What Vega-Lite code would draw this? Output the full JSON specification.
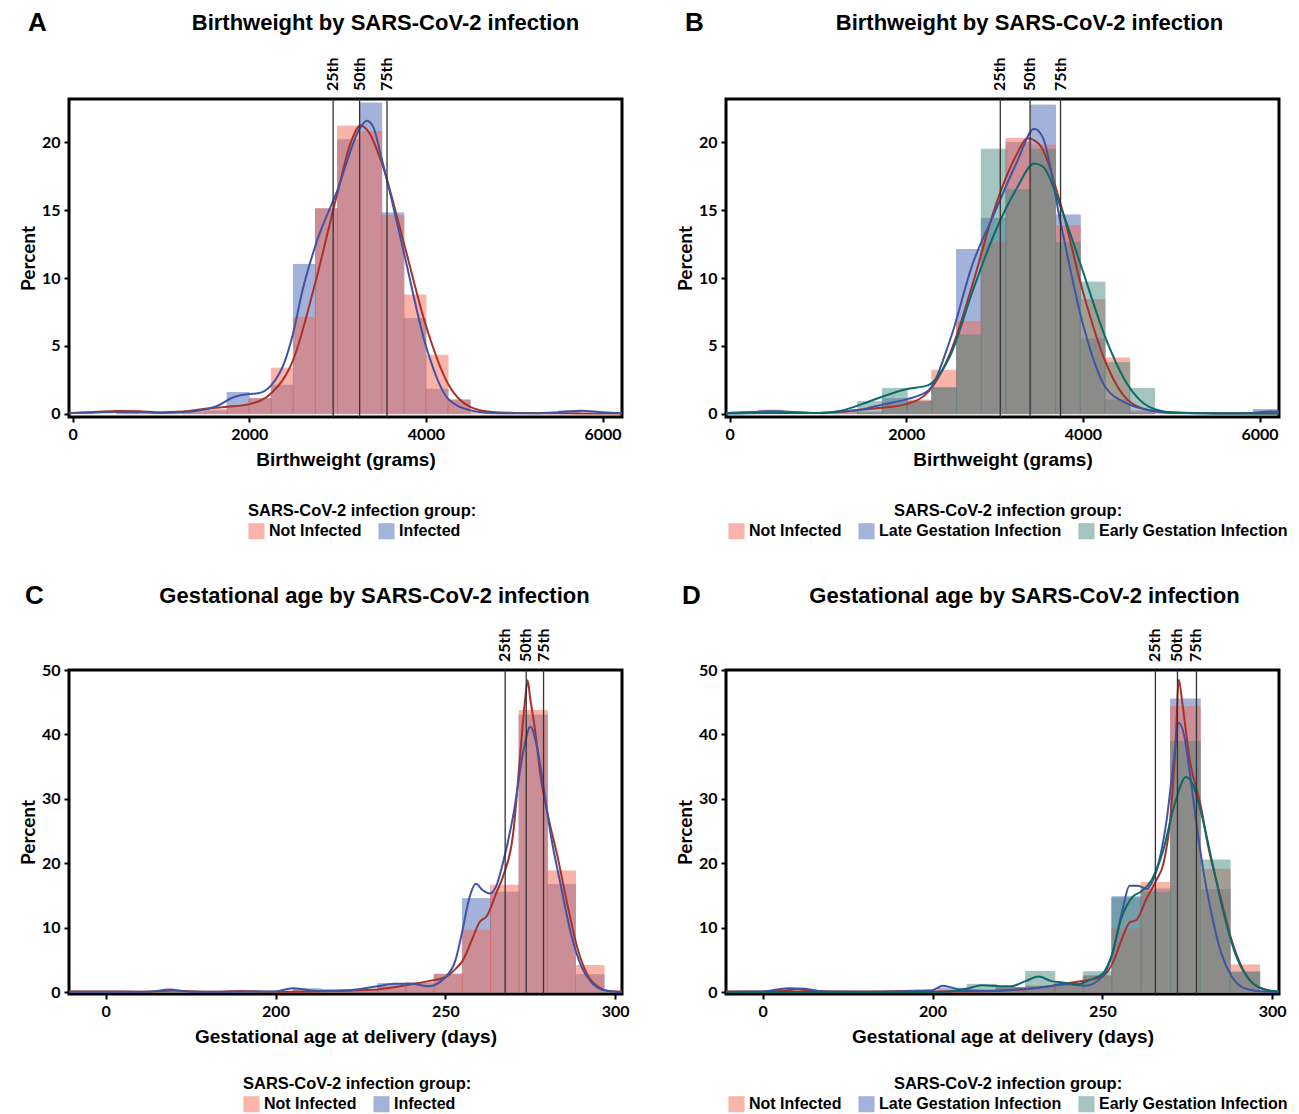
{
"$schema": "https://vega.github.io/schema/vega-lite/v6.json",
"padding": {"left": 17, "top": 8, "right": 4, "bottom": 0},
"columns": 2,
"bounds": "flush",
"spacing": {"row": 253, "column": 104},
"resolve": {"scale": {"x": "independent", "y": "independent", "fill": "independent", "stroke": "independent", "color": "independent"}, "legend": {"fill": "independent"}},
"datasets": {
"barsA": [
{"group":"Infected","start":500,"end":750,"percent":0.15},
{"group":"Infected","start":1250,"end":1500,"percent":0.1},
{"group":"Infected","start":1500,"end":1750,"percent":0.2},
{"group":"Infected","start":1750,"end":2000,"percent":1.55},
{"group":"Infected","start":2000,"end":2250,"percent":1.1},
{"group":"Infected","start":2250,"end":2500,"percent":2.1},
{"group":"Infected","start":2500,"end":2750,"percent":11.0},
{"group":"Infected","start":2750,"end":3000,"percent":15.1},
{"group":"Infected","start":3000,"end":3250,"percent":20.2},
{"group":"Infected","start":3250,"end":3500,"percent":22.9},
{"group":"Infected","start":3500,"end":3750,"percent":14.8},
{"group":"Infected","start":3750,"end":4000,"percent":7.0},
{"group":"Infected","start":4000,"end":4250,"percent":1.8},
{"group":"Infected","start":4250,"end":4500,"percent":1.0},
{"group":"Infected","start":5500,"end":5750,"percent":0.2},
{"group":"Not Infected","start":0,"end":250,"percent":0.05},
{"group":"Not Infected","start":500,"end":750,"percent":0.2},
{"group":"Not Infected","start":750,"end":1000,"percent":0.1},
{"group":"Not Infected","start":1000,"end":1250,"percent":0.05},
{"group":"Not Infected","start":1250,"end":1500,"percent":0.15},
{"group":"Not Infected","start":1500,"end":1750,"percent":0.3},
{"group":"Not Infected","start":1750,"end":2000,"percent":0.6},
{"group":"Not Infected","start":2000,"end":2250,"percent":1.1},
{"group":"Not Infected","start":2250,"end":2500,"percent":3.35},
{"group":"Not Infected","start":2500,"end":2750,"percent":7.1},
{"group":"Not Infected","start":2750,"end":3000,"percent":15.1},
{"group":"Not Infected","start":3000,"end":3250,"percent":21.2},
{"group":"Not Infected","start":3250,"end":3500,"percent":20.8},
{"group":"Not Infected","start":3500,"end":3750,"percent":14.6},
{"group":"Not Infected","start":3750,"end":4000,"percent":8.75},
{"group":"Not Infected","start":4000,"end":4250,"percent":4.3},
{"group":"Not Infected","start":4250,"end":4500,"percent":1.0},
{"group":"Not Infected","start":4500,"end":4750,"percent":0.1},
{"group":"Not Infected","start":4750,"end":5000,"percent":0.1}
],
"curvesA": [
{"group":"Not Infected","start":-40,"percent":0.02},{"group":"Not Infected","start":0,"percent":0.05},{"group":"Not Infected","start":250,"percent":0.12},{"group":"Not Infected","start":500,"percent":0.2},{"group":"Not Infected","start":750,"percent":0.18},{"group":"Not Infected","start":1000,"percent":0.1},{"group":"Not Infected","start":1250,"percent":0.15},{"group":"Not Infected","start":1500,"percent":0.35},{"group":"Not Infected","start":1750,"percent":0.5},{"group":"Not Infected","start":2000,"percent":0.7},{"group":"Not Infected","start":2250,"percent":1.5},{"group":"Not Infected","start":2500,"percent":4.0},{"group":"Not Infected","start":2750,"percent":9.7},{"group":"Not Infected","start":3000,"percent":16.3},{"group":"Not Infected","start":3150,"percent":20.0},{"group":"Not Infected","start":3260,"percent":21.25},{"group":"Not Infected","start":3350,"percent":20.8},{"group":"Not Infected","start":3500,"percent":18.5},{"group":"Not Infected","start":3750,"percent":12.6},{"group":"Not Infected","start":4000,"percent":6.5},{"group":"Not Infected","start":4250,"percent":2.2},{"group":"Not Infected","start":4500,"percent":0.5},{"group":"Not Infected","start":4750,"percent":0.12},{"group":"Not Infected","start":5000,"percent":0.05},{"group":"Not Infected","start":5500,"percent":0.02},{"group":"Not Infected","start":6220,"percent":0.0},
{"group":"Infected","start":-40,"percent":0.02},{"group":"Infected","start":0,"percent":0.05},{"group":"Infected","start":250,"percent":0.08},{"group":"Infected","start":500,"percent":0.12},{"group":"Infected","start":750,"percent":0.1},{"group":"Infected","start":1000,"percent":0.05},{"group":"Infected","start":1250,"percent":0.1},{"group":"Infected","start":1500,"percent":0.3},{"group":"Infected","start":1650,"percent":0.6},{"group":"Infected","start":1800,"percent":1.15},{"group":"Infected","start":1900,"percent":1.35},{"group":"Infected","start":2000,"percent":1.45},{"group":"Infected","start":2100,"percent":1.5},{"group":"Infected","start":2250,"percent":2.1},{"group":"Infected","start":2400,"percent":3.8},{"group":"Infected","start":2500,"percent":6.0},{"group":"Infected","start":2600,"percent":9.0},{"group":"Infected","start":2750,"percent":12.4},{"group":"Infected","start":3000,"percent":16.5},{"group":"Infected","start":3250,"percent":21.0},{"group":"Infected","start":3330,"percent":21.6},{"group":"Infected","start":3400,"percent":21.2},{"group":"Infected","start":3500,"percent":18.8},{"group":"Infected","start":3750,"percent":11.9},{"group":"Infected","start":4000,"percent":5.0},{"group":"Infected","start":4250,"percent":1.1},{"group":"Infected","start":4500,"percent":0.25},{"group":"Infected","start":4750,"percent":0.05},{"group":"Infected","start":5000,"percent":0.02},{"group":"Infected","start":5250,"percent":0.02},{"group":"Infected","start":5500,"percent":0.1},{"group":"Infected","start":5750,"percent":0.22},{"group":"Infected","start":6000,"percent":0.1},{"group":"Infected","start":6220,"percent":0.02}
],
"pctA": [{"start":2950,"label":"25th"},{"start":3250,"label":"50th"},{"start":3560,"label":"75th"}],
"barsB": [
{"group":"Late Gestation Infection","start":330,"end":610,"percent":0.25},
{"group":"Late Gestation Infection","start":1170,"end":1450,"percent":0.15},
{"group":"Late Gestation Infection","start":1450,"end":1730,"percent":0.1},
{"group":"Late Gestation Infection","start":1730,"end":2010,"percent":1.1},
{"group":"Late Gestation Infection","start":2010,"end":2290,"percent":0.9},
{"group":"Late Gestation Infection","start":2290,"end":2570,"percent":1.9},
{"group":"Late Gestation Infection","start":2570,"end":2850,"percent":12.1},
{"group":"Late Gestation Infection","start":2850,"end":3130,"percent":14.4},
{"group":"Late Gestation Infection","start":3130,"end":3410,"percent":20.0},
{"group":"Late Gestation Infection","start":3410,"end":3690,"percent":22.75},
{"group":"Late Gestation Infection","start":3690,"end":3970,"percent":14.65},
{"group":"Late Gestation Infection","start":3970,"end":4250,"percent":5.5},
{"group":"Late Gestation Infection","start":4250,"end":4530,"percent":1.0},
{"group":"Late Gestation Infection","start":4530,"end":4810,"percent":0.1},
{"group":"Late Gestation Infection","start":5930,"end":6210,"percent":0.3},
{"group":"Not Infected","start":330,"end":610,"percent":0.1},
{"group":"Not Infected","start":1170,"end":1450,"percent":0.15},
{"group":"Not Infected","start":1450,"end":1730,"percent":0.1},
{"group":"Not Infected","start":1730,"end":2010,"percent":0.7},
{"group":"Not Infected","start":2010,"end":2290,"percent":1.0},
{"group":"Not Infected","start":2290,"end":2570,"percent":3.2},
{"group":"Not Infected","start":2570,"end":2850,"percent":6.8},
{"group":"Not Infected","start":2850,"end":3130,"percent":12.6},
{"group":"Not Infected","start":3130,"end":3410,"percent":20.3},
{"group":"Not Infected","start":3410,"end":3690,"percent":19.8},
{"group":"Not Infected","start":3690,"end":3970,"percent":13.85},
{"group":"Not Infected","start":3970,"end":4250,"percent":8.4},
{"group":"Not Infected","start":4250,"end":4530,"percent":4.1},
{"group":"Not Infected","start":4530,"end":4810,"percent":0.2},
{"group":"Not Infected","start":4810,"end":5090,"percent":0.1},
{"group":"Early Gestation Infection","start":1450,"end":1730,"percent":0.88},
{"group":"Early Gestation Infection","start":1730,"end":2010,"percent":1.86},
{"group":"Early Gestation Infection","start":2010,"end":2290,"percent":0.9},
{"group":"Early Gestation Infection","start":2290,"end":2570,"percent":1.9},
{"group":"Early Gestation Infection","start":2570,"end":2850,"percent":5.8},
{"group":"Early Gestation Infection","start":2850,"end":3130,"percent":19.5},
{"group":"Early Gestation Infection","start":3130,"end":3410,"percent":16.5},
{"group":"Early Gestation Infection","start":3410,"end":3690,"percent":19.5},
{"group":"Early Gestation Infection","start":3690,"end":3970,"percent":12.6},
{"group":"Early Gestation Infection","start":3970,"end":4250,"percent":9.7},
{"group":"Early Gestation Infection","start":4250,"end":4530,"percent":3.75},
{"group":"Early Gestation Infection","start":4530,"end":4810,"percent":1.86}
],
"curvesB": [
{"group":"Not Infected","start":-40,"percent":0.02},{"group":"Not Infected","start":0,"percent":0.05},{"group":"Not Infected","start":250,"percent":0.1},{"group":"Not Infected","start":500,"percent":0.15},{"group":"Not Infected","start":750,"percent":0.1},{"group":"Not Infected","start":1000,"percent":0.05},{"group":"Not Infected","start":1250,"percent":0.12},{"group":"Not Infected","start":1500,"percent":0.3},{"group":"Not Infected","start":1750,"percent":0.45},{"group":"Not Infected","start":2000,"percent":0.7},{"group":"Not Infected","start":2250,"percent":1.6},{"group":"Not Infected","start":2500,"percent":4.5},{"group":"Not Infected","start":2750,"percent":9.5},{"group":"Not Infected","start":3000,"percent":15.1},{"group":"Not Infected","start":3250,"percent":19.1},{"group":"Not Infected","start":3370,"percent":20.3},{"group":"Not Infected","start":3500,"percent":19.9},{"group":"Not Infected","start":3750,"percent":15.4},{"group":"Not Infected","start":4000,"percent":9.0},{"group":"Not Infected","start":4250,"percent":3.9},{"group":"Not Infected","start":4500,"percent":1.05},{"group":"Not Infected","start":4750,"percent":0.25},{"group":"Not Infected","start":5000,"percent":0.08},{"group":"Not Infected","start":5500,"percent":0.03},{"group":"Not Infected","start":6220,"percent":0.0},
{"group":"Late Gestation Infection","start":-40,"percent":0.02},{"group":"Late Gestation Infection","start":0,"percent":0.05},{"group":"Late Gestation Infection","start":250,"percent":0.12},{"group":"Late Gestation Infection","start":500,"percent":0.18},{"group":"Late Gestation Infection","start":750,"percent":0.1},{"group":"Late Gestation Infection","start":1000,"percent":0.05},{"group":"Late Gestation Infection","start":1250,"percent":0.15},{"group":"Late Gestation Infection","start":1500,"percent":0.3},{"group":"Late Gestation Infection","start":1750,"percent":0.7},{"group":"Late Gestation Infection","start":2000,"percent":1.05},{"group":"Late Gestation Infection","start":2250,"percent":1.7},{"group":"Late Gestation Infection","start":2500,"percent":5.5},{"group":"Late Gestation Infection","start":2750,"percent":11.0},{"group":"Late Gestation Infection","start":3000,"percent":14.8},{"group":"Late Gestation Infection","start":3250,"percent":18.5},{"group":"Late Gestation Infection","start":3450,"percent":21.0},{"group":"Late Gestation Infection","start":3550,"percent":20.3},{"group":"Late Gestation Infection","start":3750,"percent":14.0},{"group":"Late Gestation Infection","start":4000,"percent":6.6},{"group":"Late Gestation Infection","start":4250,"percent":2.0},{"group":"Late Gestation Infection","start":4500,"percent":0.75},{"group":"Late Gestation Infection","start":4750,"percent":0.25},{"group":"Late Gestation Infection","start":5000,"percent":0.05},{"group":"Late Gestation Infection","start":5500,"percent":0.02},{"group":"Late Gestation Infection","start":5900,"percent":0.05},{"group":"Late Gestation Infection","start":6100,"percent":0.15},{"group":"Late Gestation Infection","start":6220,"percent":0.15},
{"group":"Early Gestation Infection","start":-40,"percent":0.0},{"group":"Early Gestation Infection","start":500,"percent":0.05},{"group":"Early Gestation Infection","start":1000,"percent":0.05},{"group":"Early Gestation Infection","start":1250,"percent":0.2},{"group":"Early Gestation Infection","start":1500,"percent":0.7},{"group":"Early Gestation Infection","start":1750,"percent":1.3},{"group":"Early Gestation Infection","start":2000,"percent":1.8},{"group":"Early Gestation Infection","start":2250,"percent":2.1},{"group":"Early Gestation Infection","start":2500,"percent":4.3},{"group":"Early Gestation Infection","start":2750,"percent":9.0},{"group":"Early Gestation Infection","start":3000,"percent":13.3},{"group":"Early Gestation Infection","start":3250,"percent":16.6},{"group":"Early Gestation Infection","start":3450,"percent":18.45},{"group":"Early Gestation Infection","start":3550,"percent":18.2},{"group":"Early Gestation Infection","start":3750,"percent":15.2},{"group":"Early Gestation Infection","start":4000,"percent":10.5},{"group":"Early Gestation Infection","start":4250,"percent":5.7},{"group":"Early Gestation Infection","start":4500,"percent":2.2},{"group":"Early Gestation Infection","start":4750,"percent":0.5},{"group":"Early Gestation Infection","start":5000,"percent":0.1},{"group":"Early Gestation Infection","start":5500,"percent":0.0},{"group":"Early Gestation Infection","start":6220,"percent":0.0}
],
"pctB": [{"start":3065,"label":"25th"},{"start":3402,"label":"50th"},{"start":3747,"label":"75th"}],
"barsC": [
{"group":"Infected","start":205.2,"end":213.5,"percent":0.5},
{"group":"Infected","start":213.5,"end":221.8,"percent":0.4},
{"group":"Infected","start":221.8,"end":230.1,"percent":0.4},
{"group":"Infected","start":230.1,"end":238.4,"percent":1.3},
{"group":"Infected","start":238.4,"end":246.7,"percent":1.4},
{"group":"Infected","start":246.7,"end":255,"percent":2.7},
{"group":"Infected","start":255,"end":263.3,"percent":14.5},
{"group":"Infected","start":263.3,"end":271.7,"percent":15.5},
{"group":"Infected","start":271.7,"end":280,"percent":43.0},
{"group":"Infected","start":280,"end":288.3,"percent":16.7},
{"group":"Infected","start":288.3,"end":296.7,"percent":2.7},
{"group":"Not Infected","start":205.2,"end":213.5,"percent":0.2},
{"group":"Not Infected","start":213.5,"end":221.8,"percent":0.15},
{"group":"Not Infected","start":221.8,"end":230.1,"percent":0.4},
{"group":"Not Infected","start":230.1,"end":238.4,"percent":0.8},
{"group":"Not Infected","start":238.4,"end":246.7,"percent":1.4},
{"group":"Not Infected","start":246.7,"end":255,"percent":2.8},
{"group":"Not Infected","start":255,"end":263.3,"percent":9.6},
{"group":"Not Infected","start":263.3,"end":271.7,"percent":16.6},
{"group":"Not Infected","start":271.7,"end":280,"percent":43.7},
{"group":"Not Infected","start":280,"end":288.3,"percent":18.8},
{"group":"Not Infected","start":288.3,"end":296.7,"percent":4.1}
],
"curvesC": [
{"group":"Not Infected","start":-43,"percent":0.1},{"group":"Not Infected","start":0,"percent":0.1},{"group":"Not Infected","start":40,"percent":0.05},{"group":"Not Infected","start":80,"percent":0.2},{"group":"Not Infected","start":120,"percent":0.05},{"group":"Not Infected","start":160,"percent":0.15},{"group":"Not Infected","start":200,"percent":0.05},{"group":"Not Infected","start":210,"percent":0.1},{"group":"Not Infected","start":220,"percent":0.2},{"group":"Not Infected","start":230,"percent":0.4},{"group":"Not Infected","start":240,"percent":1.2},{"group":"Not Infected","start":245,"percent":1.7},{"group":"Not Infected","start":250,"percent":2.3},{"group":"Not Infected","start":253,"percent":3.6},{"group":"Not Infected","start":255,"percent":4.8},{"group":"Not Infected","start":257.8,"percent":8.1},{"group":"Not Infected","start":260,"percent":10.8},{"group":"Not Infected","start":262.2,"percent":11.8},{"group":"Not Infected","start":265,"percent":15.4},{"group":"Not Infected","start":267,"percent":18.0},{"group":"Not Infected","start":270,"percent":24.8},{"group":"Not Infected","start":272,"percent":36.7},{"group":"Not Infected","start":273.5,"percent":45.5},{"group":"Not Infected","start":274.2,"percent":48.4},{"group":"Not Infected","start":275,"percent":45.5},{"group":"Not Infected","start":276.5,"percent":40.3},{"group":"Not Infected","start":278,"percent":33.6},{"group":"Not Infected","start":280,"percent":27.9},{"group":"Not Infected","start":283,"percent":21.1},{"group":"Not Infected","start":286,"percent":13.4},{"group":"Not Infected","start":289,"percent":6.6},{"group":"Not Infected","start":292,"percent":2.5},{"group":"Not Infected","start":295,"percent":0.8},{"group":"Not Infected","start":298,"percent":0.15},{"group":"Not Infected","start":302,"percent":0.05},
{"group":"Infected","start":-43,"percent":0.05},{"group":"Infected","start":0,"percent":0.05},{"group":"Infected","start":50,"percent":0.05},{"group":"Infected","start":75,"percent":0.4},{"group":"Infected","start":100,"percent":0.05},{"group":"Infected","start":150,"percent":0.05},{"group":"Infected","start":200,"percent":0.1},{"group":"Infected","start":205,"percent":0.6},{"group":"Infected","start":210,"percent":0.3},{"group":"Infected","start":215,"percent":0.15},{"group":"Infected","start":222,"percent":0.3},{"group":"Infected","start":230,"percent":0.9},{"group":"Infected","start":235,"percent":1.3},{"group":"Infected","start":240,"percent":1.3},{"group":"Infected","start":245,"percent":0.9},{"group":"Infected","start":250,"percent":2.3},{"group":"Infected","start":253,"percent":5.0},{"group":"Infected","start":255,"percent":9.5},{"group":"Infected","start":257,"percent":14.5},{"group":"Infected","start":259,"percent":16.8},{"group":"Infected","start":261,"percent":15.8},{"group":"Infected","start":263,"percent":15.3},{"group":"Infected","start":265,"percent":16.5},{"group":"Infected","start":267,"percent":20.2},{"group":"Infected","start":270,"percent":27.5},{"group":"Infected","start":273,"percent":37.5},{"group":"Infected","start":275,"percent":41.2},{"group":"Infected","start":277,"percent":38.0},{"group":"Infected","start":279,"percent":31.5},{"group":"Infected","start":281,"percent":24.5},{"group":"Infected","start":284,"percent":16.5},{"group":"Infected","start":287,"percent":9.0},{"group":"Infected","start":290,"percent":4.0},{"group":"Infected","start":293,"percent":1.5},{"group":"Infected","start":296,"percent":0.4},{"group":"Infected","start":300,"percent":0.05},{"group":"Infected","start":302,"percent":0.0}
],
"pctC": [{"start":267.6,"label":"25th"},{"start":273.8,"label":"50th"},{"start":278.9,"label":"75th"}],
"barsD": [
{"group":"Late Gestation Infection","start":201.6,"end":210.2,"percent":0.6},
{"group":"Late Gestation Infection","start":210.2,"end":218.8,"percent":0.2},
{"group":"Late Gestation Infection","start":218.8,"end":227.4,"percent":0.7},
{"group":"Late Gestation Infection","start":227.4,"end":236.0,"percent":0.9},
{"group":"Late Gestation Infection","start":236.0,"end":244.4,"percent":1.3},
{"group":"Late Gestation Infection","start":244.4,"end":252.8,"percent":2.5},
{"group":"Late Gestation Infection","start":252.8,"end":261.4,"percent":14.8},
{"group":"Late Gestation Infection","start":261.4,"end":270.1,"percent":16.0},
{"group":"Late Gestation Infection","start":270.1,"end":278.8,"percent":45.5},
{"group":"Late Gestation Infection","start":278.8,"end":287.6,"percent":15.9},
{"group":"Late Gestation Infection","start":287.6,"end":296.3,"percent":3.0},
{"group":"Not Infected","start":201.6,"end":210.2,"percent":0.2},
{"group":"Not Infected","start":210.2,"end":218.8,"percent":0.2},
{"group":"Not Infected","start":218.8,"end":227.4,"percent":0.7},
{"group":"Not Infected","start":227.4,"end":236.0,"percent":0.9},
{"group":"Not Infected","start":236.0,"end":244.4,"percent":1.4},
{"group":"Not Infected","start":244.4,"end":252.8,"percent":2.5},
{"group":"Not Infected","start":252.8,"end":261.4,"percent":9.8},
{"group":"Not Infected","start":261.4,"end":270.1,"percent":17.0},
{"group":"Not Infected","start":270.1,"end":278.8,"percent":44.3},
{"group":"Not Infected","start":278.8,"end":287.6,"percent":19.05},
{"group":"Not Infected","start":287.6,"end":296.3,"percent":4.2},
{"group":"Early Gestation Infection","start":210.2,"end":218.8,"percent":1.2},
{"group":"Early Gestation Infection","start":218.8,"end":227.4,"percent":0.7},
{"group":"Early Gestation Infection","start":227.4,"end":236.0,"percent":3.2},
{"group":"Early Gestation Infection","start":236.0,"end":244.4,"percent":1.3},
{"group":"Early Gestation Infection","start":244.4,"end":252.8,"percent":3.15},
{"group":"Early Gestation Infection","start":252.8,"end":261.4,"percent":14.6},
{"group":"Early Gestation Infection","start":261.4,"end":270.1,"percent":15.5},
{"group":"Early Gestation Infection","start":270.1,"end":278.8,"percent":38.9},
{"group":"Early Gestation Infection","start":278.8,"end":287.6,"percent":20.5},
{"group":"Early Gestation Infection","start":287.6,"end":296.3,"percent":3.15}
],
"curvesD": [
{"group":"Not Infected","start":-43,"percent":0.1},{"group":"Not Infected","start":0,"percent":0.1},{"group":"Not Infected","start":20,"percent":0.2},{"group":"Not Infected","start":41,"percent":0.4},{"group":"Not Infected","start":60,"percent":0.2},{"group":"Not Infected","start":80,"percent":0.1},{"group":"Not Infected","start":140,"percent":0.1},{"group":"Not Infected","start":180,"percent":0.2},{"group":"Not Infected","start":200,"percent":0.1},{"group":"Not Infected","start":210,"percent":0.1},{"group":"Not Infected","start":220,"percent":0.2},{"group":"Not Infected","start":230,"percent":0.6},{"group":"Not Infected","start":240,"percent":1.4},{"group":"Not Infected","start":245,"percent":1.8},{"group":"Not Infected","start":250,"percent":2.4},{"group":"Not Infected","start":253,"percent":4.5},{"group":"Not Infected","start":256,"percent":8.6},{"group":"Not Infected","start":258,"percent":10.8},{"group":"Not Infected","start":260,"percent":11.2},{"group":"Not Infected","start":263,"percent":14.5},{"group":"Not Infected","start":266,"percent":17.5},{"group":"Not Infected","start":268,"percent":20.0},{"group":"Not Infected","start":270,"percent":27.0},{"group":"Not Infected","start":271.5,"percent":38.0},{"group":"Not Infected","start":272.5,"percent":48.5},{"group":"Not Infected","start":273.5,"percent":45.0},{"group":"Not Infected","start":275.7,"percent":36.1},{"group":"Not Infected","start":279,"percent":28.8},{"group":"Not Infected","start":281.2,"percent":22.5},{"group":"Not Infected","start":284.6,"percent":15.1},{"group":"Not Infected","start":287.9,"percent":8.3},{"group":"Not Infected","start":291.3,"percent":3.6},{"group":"Not Infected","start":294.6,"percent":1.2},{"group":"Not Infected","start":298,"percent":0.4},{"group":"Not Infected","start":302,"percent":0.05},
{"group":"Late Gestation Infection","start":-43,"percent":0.05},{"group":"Late Gestation Infection","start":0,"percent":0.1},{"group":"Late Gestation Infection","start":30,"percent":0.6},{"group":"Late Gestation Infection","start":50,"percent":0.5},{"group":"Late Gestation Infection","start":70,"percent":0.1},{"group":"Late Gestation Infection","start":120,"percent":0.05},{"group":"Late Gestation Infection","start":200,"percent":0.3},{"group":"Late Gestation Infection","start":203,"percent":1.0},{"group":"Late Gestation Infection","start":208,"percent":0.4},{"group":"Late Gestation Infection","start":215,"percent":0.2},{"group":"Late Gestation Infection","start":230,"percent":0.6},{"group":"Late Gestation Infection","start":240,"percent":1.2},{"group":"Late Gestation Infection","start":245,"percent":1.0},{"group":"Late Gestation Infection","start":250,"percent":2.4},{"group":"Late Gestation Infection","start":253,"percent":6.0},{"group":"Late Gestation Infection","start":256,"percent":13.0},{"group":"Late Gestation Infection","start":258,"percent":16.5},{"group":"Late Gestation Infection","start":260.5,"percent":16.5},{"group":"Late Gestation Infection","start":263,"percent":16.0},{"group":"Late Gestation Infection","start":265,"percent":17.5},{"group":"Late Gestation Infection","start":267,"percent":21.0},{"group":"Late Gestation Infection","start":269,"percent":27.0},{"group":"Late Gestation Infection","start":271,"percent":36.0},{"group":"Late Gestation Infection","start":272.5,"percent":41.8},{"group":"Late Gestation Infection","start":274,"percent":40.0},{"group":"Late Gestation Infection","start":276,"percent":33.0},{"group":"Late Gestation Infection","start":278,"percent":25.0},{"group":"Late Gestation Infection","start":280,"percent":18.0},{"group":"Late Gestation Infection","start":282,"percent":12.5},{"group":"Late Gestation Infection","start":285,"percent":6.0},{"group":"Late Gestation Infection","start":288,"percent":2.5},{"group":"Late Gestation Infection","start":291,"percent":0.8},{"group":"Late Gestation Infection","start":295,"percent":0.2},{"group":"Late Gestation Infection","start":300,"percent":0.05},{"group":"Late Gestation Infection","start":302,"percent":0.02},
{"group":"Early Gestation Infection","start":-43,"percent":0.0},{"group":"Early Gestation Infection","start":200,"percent":0.0},{"group":"Early Gestation Infection","start":205,"percent":0.1},{"group":"Early Gestation Infection","start":210,"percent":0.5},{"group":"Early Gestation Infection","start":214.5,"percent":1.05},{"group":"Early Gestation Infection","start":220,"percent":0.9},{"group":"Early Gestation Infection","start":223,"percent":0.9},{"group":"Early Gestation Infection","start":227.4,"percent":1.7},{"group":"Early Gestation Infection","start":231.2,"percent":2.4},{"group":"Early Gestation Infection","start":235,"percent":1.7},{"group":"Early Gestation Infection","start":238.2,"percent":1.5},{"group":"Early Gestation Infection","start":242.5,"percent":1.2},{"group":"Early Gestation Infection","start":246.8,"percent":2.0},{"group":"Early Gestation Infection","start":250,"percent":2.8},{"group":"Early Gestation Infection","start":252.6,"percent":5.5},{"group":"Early Gestation Infection","start":255.6,"percent":11.5},{"group":"Early Gestation Infection","start":258.9,"percent":14.8},{"group":"Early Gestation Infection","start":261.4,"percent":15.6},{"group":"Early Gestation Infection","start":264.5,"percent":17.4},{"group":"Early Gestation Infection","start":267.9,"percent":22.0},{"group":"Early Gestation Infection","start":271.2,"percent":29.0},{"group":"Early Gestation Infection","start":274.6,"percent":33.4},{"group":"Early Gestation Infection","start":276.8,"percent":32.0},{"group":"Early Gestation Infection","start":279,"percent":28.0},{"group":"Early Gestation Infection","start":282.4,"percent":20.0},{"group":"Early Gestation Infection","start":285.7,"percent":12.3},{"group":"Early Gestation Infection","start":289.1,"percent":6.0},{"group":"Early Gestation Infection","start":292.4,"percent":2.5},{"group":"Early Gestation Infection","start":295.8,"percent":0.8},{"group":"Early Gestation Infection","start":299.1,"percent":0.2},{"group":"Early Gestation Infection","start":302,"percent":0.1}
],
"pctD": [{"start":265.6,"label":"25th"},{"start":272.1,"label":"50th"},{"start":277.7,"label":"75th"}],
"one": [{"k": 1}]
},
"concat": [
{
"width": 553, "height": 318,
"title": {"text": "Birthweight by SARS-CoV-2 infection", "frame": "group", "anchor": "middle", "dx": 40, "offset": -25},
"layer": [
{"data": {"name": "barsA"}, "mark": {"type": "bar", "opacity": 0.5, "strokeWidth": 1},
 "encoding": {
  "x": {"field": "start", "type": "quantitative", "title": "Birthweight (grams)", "scale": {"domain": [-40, 6220], "nice": false, "zero": false}, "axis": {"values": [0, 2000, 4000, 6000], "format": "d"}},
  "x2": {"field": "end"},
  "y": {"field": "percent", "type": "quantitative", "title": "Percent", "scale": {"domain": [-0.25, 23.2], "nice": false, "zero": false}, "axis": {"values": [0, 5, 10, 15, 20]}},
  "y2": {"datum": 0},
  "fill": {"field": "group", "type": "nominal", "title": "SARS-CoV-2 infection group:", "scale": {"domain": ["Not Infected", "Infected"], "range": ["#f56955", "#4767b5"]}, "legend": {"orient": "none", "legendX": 179, "legendY": 404, "direction": "horizontal", "titleAnchor": "start"}},
  "stroke": {"field": "group", "type": "nominal", "scale": {"domain": ["Not Infected", "Infected"], "range": ["#f56955", "#4767b5"]}, "legend": null}
 }},
{"data": {"name": "curvesA"}, "mark": {"type": "line", "interpolate": "monotone", "strokeWidth": 2},
 "encoding": {
  "x": {"field": "start", "type": "quantitative", "title": "Birthweight (grams)"},
  "y": {"field": "percent", "type": "quantitative", "title": "Percent"},
  "color": {"field": "group", "type": "nominal", "scale": {"domain": ["Not Infected", "Infected"], "range": ["#a8322b", "#3f54a4"]}, "legend": null}
 }},
{"data": {"name": "pctA"}, "mark": {"type": "rule", "color": "#333333", "strokeWidth": 1.3},
 "encoding": {"x": {"field": "start", "type": "quantitative", "title": "Birthweight (grams)"}}},
{"data": {"name": "pctA"}, "mark": {"type": "text", "angle": 270, "align": "left", "baseline": "middle", "dx": 8, "font": "Lato", "fontWeight": "bold", "fontSize": 16, "color": "black"},
 "encoding": {"x": {"field": "start", "type": "quantitative", "title": "Birthweight (grams)"}, "y": {"datum": 23.2}, "text": {"field": "label"}}},
{"data": {"name": "one"}, "mark": {"type": "text", "text": "A", "align": "left", "baseline": "middle", "dx": -41, "dy": -76, "font": "Liberation Sans", "fontWeight": "bold", "fontSize": 26, "color": "black"},
 "encoding": {"x": {"datum": -40}, "y": {"datum": 23.2}}}
]
},
{
"width": 553, "height": 318,
"title": {"text": "Birthweight by SARS-CoV-2 infection", "frame": "group", "anchor": "middle", "dx": 27, "offset": -25},
"layer": [
{"data": {"name": "barsB"}, "mark": {"type": "bar", "opacity": 0.5, "strokeWidth": 1},
 "encoding": {
  "x": {"field": "start", "type": "quantitative", "title": "Birthweight (grams)", "scale": {"domain": [-40, 6220], "nice": false, "zero": false}, "axis": {"values": [0, 2000, 4000, 6000], "format": "d"}},
  "x2": {"field": "end"},
  "y": {"field": "percent", "type": "quantitative", "title": "Percent", "scale": {"domain": [-0.25, 23.2], "nice": false, "zero": false}, "axis": {"values": [0, 5, 10, 15, 20]}},
  "y2": {"datum": 0},
  "fill": {"field": "group", "type": "nominal", "title": "SARS-CoV-2 infection group:", "scale": {"domain": ["Not Infected", "Late Gestation Infection", "Early Gestation Infection"], "range": ["#f56955", "#4767b5", "#4c8a80"]}, "legend": {"orient": "none", "legendX": 2, "legendY": 404, "direction": "horizontal"}},
  "stroke": {"field": "group", "type": "nominal", "scale": {"domain": ["Not Infected", "Late Gestation Infection", "Early Gestation Infection"], "range": ["#f56955", "#4767b5", "#4c8a80"]}, "legend": null}
 }},
{"data": {"name": "curvesB"}, "mark": {"type": "line", "interpolate": "monotone", "strokeWidth": 2},
 "encoding": {
  "x": {"field": "start", "type": "quantitative", "title": "Birthweight (grams)"},
  "y": {"field": "percent", "type": "quantitative", "title": "Percent"},
  "color": {"field": "group", "type": "nominal", "scale": {"domain": ["Not Infected", "Late Gestation Infection", "Early Gestation Infection"], "range": ["#a8322b", "#3f54a4", "#0a6b6b"]}, "legend": null}
 }},
{"data": {"name": "pctB"}, "mark": {"type": "rule", "color": "#333333", "strokeWidth": 1.3},
 "encoding": {"x": {"field": "start", "type": "quantitative", "title": "Birthweight (grams)"}}},
{"data": {"name": "pctB"}, "mark": {"type": "text", "angle": 270, "align": "left", "baseline": "middle", "dx": 8, "font": "Lato", "fontWeight": "bold", "fontSize": 16, "color": "black"},
 "encoding": {"x": {"field": "start", "type": "quantitative", "title": "Birthweight (grams)"}, "y": {"datum": 23.2}, "text": {"field": "label"}}},
{"data": {"name": "one"}, "mark": {"type": "text", "text": "B", "align": "left", "baseline": "middle", "dx": -41, "dy": -76, "font": "Liberation Sans", "fontWeight": "bold", "fontSize": 26, "color": "black"},
 "encoding": {"x": {"datum": -40}, "y": {"datum": 23.2}}}
]
},
{
"width": 553, "height": 324,
"title": {"text": "Gestational age by SARS-CoV-2 infection", "frame": "group", "anchor": "middle", "dx": 29, "offset": -25},
"layer": [
{"data": {"name": "barsC"}, "mark": {"type": "bar", "opacity": 0.5, "strokeWidth": 1},
 "encoding": {
  "x": {"field": "start", "type": "quantitative", "title": "Gestational age at delivery (days)", "scale": {"domain": [-43, 0, 200, 250, 302], "range": [0, 36.7, 206.5, 376.4, 553], "nice": false, "zero": false}, "axis": {"values": [0, 200, 250, 300], "format": "d"}},
  "x2": {"field": "end"},
  "y": {"field": "percent", "type": "quantitative", "title": "Percent", "scale": {"domain": [-0.3, 50], "nice": false, "zero": false}, "axis": {"values": [0, 10, 20, 30, 40, 50]}},
  "y2": {"datum": 0},
  "fill": {"field": "group", "type": "nominal", "title": "SARS-CoV-2 infection group:", "scale": {"domain": ["Not Infected", "Infected"], "range": ["#f56955", "#4767b5"]}, "legend": {"orient": "none", "legendX": 174, "legendY": 406, "direction": "horizontal", "titleAnchor": "start"}},
  "stroke": {"field": "group", "type": "nominal", "scale": {"domain": ["Not Infected", "Infected"], "range": ["#f56955", "#4767b5"]}, "legend": null}
 }},
{"data": {"name": "curvesC"}, "mark": {"type": "line", "interpolate": "monotone", "strokeWidth": 2},
 "encoding": {
  "x": {"field": "start", "type": "quantitative", "title": "Gestational age at delivery (days)"},
  "y": {"field": "percent", "type": "quantitative", "title": "Percent"},
  "color": {"field": "group", "type": "nominal", "scale": {"domain": ["Not Infected", "Infected"], "range": ["#a8322b", "#3f54a4"]}, "legend": null}
 }},
{"data": {"name": "pctC"}, "mark": {"type": "rule", "color": "#333333", "strokeWidth": 1.3},
 "encoding": {"x": {"field": "start", "type": "quantitative", "title": "Gestational age at delivery (days)"}}},
{"data": {"name": "pctC"}, "mark": {"type": "text", "angle": 270, "align": "left", "baseline": "middle", "dx": 8, "font": "Lato", "fontWeight": "bold", "fontSize": 16, "color": "black"},
 "encoding": {"x": {"field": "start", "type": "quantitative", "title": "Gestational age at delivery (days)"}, "y": {"datum": 50}, "text": {"field": "label"}}},
{"data": {"name": "one"}, "mark": {"type": "text", "text": "C", "align": "left", "baseline": "middle", "dx": -44, "dy": -74, "font": "Liberation Sans", "fontWeight": "bold", "fontSize": 26, "color": "black"},
 "encoding": {"x": {"datum": -43}, "y": {"datum": 50}}}
]
},
{
"width": 553, "height": 324,
"title": {"text": "Gestational age by SARS-CoV-2 infection", "frame": "group", "anchor": "middle", "dx": 22, "offset": -25},
"layer": [
{"data": {"name": "barsD"}, "mark": {"type": "bar", "opacity": 0.5, "strokeWidth": 1},
 "encoding": {
  "x": {"field": "start", "type": "quantitative", "title": "Gestational age at delivery (days)", "scale": {"domain": [-43, 0, 200, 250, 302], "range": [0, 36.7, 206.5, 376.4, 553], "nice": false, "zero": false}, "axis": {"values": [0, 200, 250, 300], "format": "d"}},
  "x2": {"field": "end"},
  "y": {"field": "percent", "type": "quantitative", "title": "Percent", "scale": {"domain": [-0.3, 50], "nice": false, "zero": false}, "axis": {"values": [0, 10, 20, 30, 40, 50]}},
  "y2": {"datum": 0},
  "fill": {"field": "group", "type": "nominal", "title": "SARS-CoV-2 infection group:", "scale": {"domain": ["Not Infected", "Late Gestation Infection", "Early Gestation Infection"], "range": ["#f56955", "#4767b5", "#4c8a80"]}, "legend": {"orient": "none", "legendX": 2, "legendY": 406, "direction": "horizontal"}},
  "stroke": {"field": "group", "type": "nominal", "scale": {"domain": ["Not Infected", "Late Gestation Infection", "Early Gestation Infection"], "range": ["#f56955", "#4767b5", "#4c8a80"]}, "legend": null}
 }},
{"data": {"name": "curvesD"}, "mark": {"type": "line", "interpolate": "monotone", "strokeWidth": 2},
 "encoding": {
  "x": {"field": "start", "type": "quantitative", "title": "Gestational age at delivery (days)"},
  "y": {"field": "percent", "type": "quantitative", "title": "Percent"},
  "color": {"field": "group", "type": "nominal", "scale": {"domain": ["Not Infected", "Late Gestation Infection", "Early Gestation Infection"], "range": ["#a8322b", "#3f54a4", "#0a6b6b"]}, "legend": null}
 }},
{"data": {"name": "pctD"}, "mark": {"type": "rule", "color": "#333333", "strokeWidth": 1.3},
 "encoding": {"x": {"field": "start", "type": "quantitative", "title": "Gestational age at delivery (days)"}}},
{"data": {"name": "pctD"}, "mark": {"type": "text", "angle": 270, "align": "left", "baseline": "middle", "dx": 8, "font": "Lato", "fontWeight": "bold", "fontSize": 16, "color": "black"},
 "encoding": {"x": {"field": "start", "type": "quantitative", "title": "Gestational age at delivery (days)"}, "y": {"datum": 50}, "text": {"field": "label"}}},
{"data": {"name": "one"}, "mark": {"type": "text", "text": "D", "align": "left", "baseline": "middle", "dx": -44, "dy": -74, "font": "Liberation Sans", "fontWeight": "bold", "fontSize": 26, "color": "black"},
 "encoding": {"x": {"datum": -43}, "y": {"datum": 50}}}
]
}
],
"config": {
 "view": {"stroke": "black", "strokeWidth": 3},
 "axis": {"domain": false, "grid": false, "ticks": true, "tickColor": "black", "tickWidth": 2, "tickSize": 5, "labelFont": "Lato", "labelFontWeight": "bold", "labelFontSize": 16, "labelColor": "black", "labelPadding": 4, "labelFlush": false, "titleColor": "black", "titleFontWeight": "bold"},
 "axisX": {"titleFont": "Liberation Sans", "titleFontSize": 19, "titlePadding": 8},
 "axisY": {"titleFont": "Lato", "titleFontSize": 19, "titlePadding": 3},
 "legend": {"titleFont": "Liberation Sans", "titleFontSize": 16.5, "titleFontWeight": "bold", "titleColor": "black", "titleLimit": 500, "labelLimit": 400, "labelFont": "Liberation Sans", "labelFontSize": 16, "labelFontWeight": "bold", "labelColor": "black", "symbolType": "square", "symbolSize": 260, "symbolStrokeWidth": 0, "columnPadding": 16, "labelOffset": 4, "titlePadding": 3, "titleAnchor": "middle"},
 "title": {"font": "Liberation Sans", "fontSize": 22, "fontWeight": "bold", "color": "black"}
}
}
